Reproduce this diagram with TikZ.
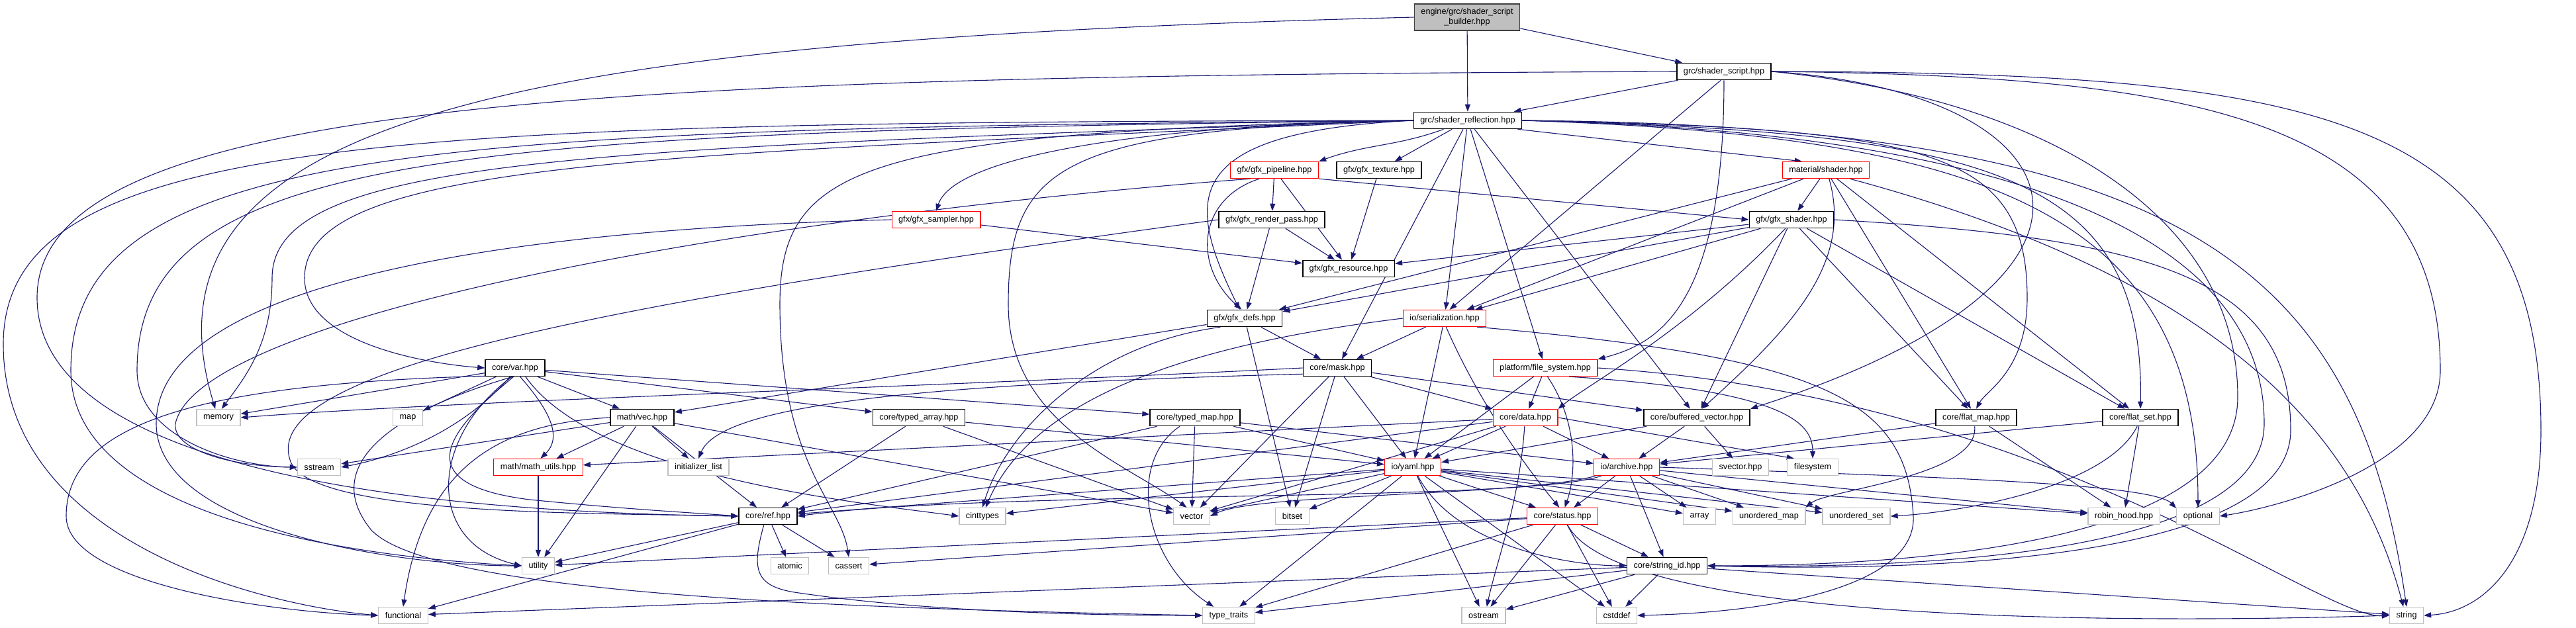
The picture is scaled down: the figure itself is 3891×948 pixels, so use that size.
\documentclass[tikz,border=0pt]{standalone}
\usepackage{fontspec}
\setmainfont{Liberation Sans}
\usetikzlibrary{arrows.meta, backgrounds}
\definecolor{edgeblue}{HTML}{191970}
\definecolor{sysgray}{HTML}{BFBFBF}
\definecolor{rootdraw}{HTML}{404040}
\tikzset{
  hdr/.style={rectangle, draw=black, line width=1.6pt, fill=white,
              minimum height=25pt, inner xsep=10pt, inner ysep=0pt,
              font=\fontsize{12.7}{15}\selectfont},
  redhdr/.style={hdr, draw=red, line width=1.3pt},
  syshdr/.style={hdr, draw=sysgray, line width=1.3pt},
  roothdr/.style={hdr, fill=sysgray, draw=rootdraw, minimum height=40pt, align=center},
  dep/.style={-{Triangle[length=11pt,width=8pt]}, draw=edgeblue, line width=1.1pt},
}
\begin{document}
\begin{tikzpicture}[x=1pt, y=-1pt]
\useasboundingbox (0,0) rectangle (3891,948);
% headers of the project
\node[roothdr] (bld) at (2216,26) {engine/grc/shader\_script\\\_builder.hpp};
\node[hdr] (scr) at (2604,108) {grc/shader\_script.hpp};
\node[hdr] (refl) at (2217,182) {grc/shader\_reflection.hpp};
\node[hdr] (tex) at (2083,257) {gfx/gfx\_texture.hpp};
\node[redhdr] (mshd) at (2758,257) {material/shader.hpp};
\node[redhdr] (pipe) at (1925,257) {gfx/gfx\_pipeline.hpp};
\node[redhdr] (smp) at (1414,332) {gfx/gfx\_sampler.hpp};
\node[hdr] (rpass) at (1921,332) {gfx/gfx\_render\_pass.hpp};
\node[hdr] (gshd) at (2706,332) {gfx/gfx\_shader.hpp};
\node[hdr] (res) at (2037,406) {gfx/gfx\_resource.hpp};
\node[hdr] (defs) at (1880,481) {gfx/gfx\_defs.hpp};
\node[redhdr] (ser) at (2182,481) {io/serialization.hpp};
\node[hdr] (mask) at (2020,556) {core/mask.hpp};
\node[redhdr] (fsys) at (2334,556) {platform/file\_system.hpp};
\node[hdr] (var) at (778,556) {core/var.hpp};
\node[hdr] (vec) at (970,631) {math/vec.hpp};
\node[hdr] (tarr) at (1388,631) {core/typed\_array.hpp};
\node[hdr] (tmap) at (1805,631) {core/typed\_map.hpp};
\node[redhdr] (data) at (2304,631) {core/data.hpp};
\node[hdr] (bvec) at (2563,631) {core/buffered\_vector.hpp};
\node[hdr] (fmap) at (2985,631) {core/flat\_map.hpp};
\node[hdr] (fset) at (3233,631) {core/flat\_set.hpp};
\node[redhdr] (mutil) at (813,706) {math/math\_utils.hpp};
\node[redhdr] (yaml) at (2134,706) {io/yaml.hpp};
\node[redhdr] (arch) at (2457,706) {io/archive.hpp};
\node[hdr] (ref) at (1160,780) {core/ref.hpp};
\node[redhdr] (status) at (2360,780) {core/status.hpp};
\node[hdr] (sid) at (2518,855) {core/string\_id.hpp};
% system headers
\node[syshdr] (memory) at (330,631) {memory};
\node[syshdr] (map) at (616,631) {map};
\node[syshdr] (sstream) at (482,706) {sstream};
\node[syshdr] (ilist) at (1055,706) {initializer\_list};
\node[syshdr] (svec) at (2629,706) {svector.hpp};
\node[syshdr] (fs) at (2738,706) {filesystem};
\node[syshdr] (cint) at (1484,780) {cinttypes};
\node[syshdr] (vector) at (1800,780) {vector};
\node[syshdr] (bitset) at (1952,780) {bitset};
\node[syshdr] (array) at (2567,780) {array};
\node[syshdr] (umap) at (2672,780) {unordered\_map};
\node[syshdr] (uset) at (2804,780) {unordered\_set};
\node[syshdr] (robin) at (3208,780) {robin\_hood.hpp};
\node[syshdr] (optional) at (3320,780) {optional};
\node[syshdr] (utility) at (813,855) {utility};
\node[syshdr] (atomic) at (1193,855) {atomic};
\node[syshdr] (cassert) at (1282,855) {cassert};
\node[syshdr] (functional) at (609,930) {functional};
\node[syshdr] (ttraits) at (1856,930) {type\_traits};
\node[syshdr] (ostream) at (2241,930) {ostream};
\node[syshdr] (cstddef) at (2442,930) {cstddef};
\node[syshdr] (string) at (3635,930) {string};
\begin{scope}[on background layer]
% builder and script
\draw[dep] (bld)--(refl); \draw[dep] (bld)--(scr);
\draw[dep] (bld.west) .. controls (800,60) and (190,170) .. (memory.110);
\draw[dep] (scr)--(refl); \draw[dep] (scr.250)--(ser.60);
\draw[dep] (scr.south) .. controls (2604,470) and (2500,520) .. (fsys.north east);
\draw[dep] (scr.west) .. controls (900,115) and (56,150) .. (56,450) .. controls (56,650) and (400,770) .. (ref.west);
\draw[dep] (scr.east) .. controls (3300,115) and (3686,170) .. (3686,560) .. controls (3686,700) and (3450,765) .. (optional.east);
\draw[dep] (scr.east) .. controls (3500,110) and (3838,170) .. (3838,650) .. controls (3838,850) and (3750,925) .. (string.east);
\draw[dep] (scr.east) .. controls (3150,140) and (3260,420) .. (bvec.north east);
\draw[dep] (scr.east) .. controls (3100,150) and (3380,330) .. (3380,600) .. controls (3380,820) and (2900,855) .. (sid.east);
% reflection
\draw[dep] (refl)--(tex); \draw[dep] (refl.-10)--(mshd.160);
\draw[dep] (refl.200) to[out=200,in=20] (pipe.north east);
\draw[dep] (refl.west) .. controls (1700,190) and (1440,240) .. (smp.north);
\draw[dep] (refl.west) .. controls (1780,200) and (1790,300) .. (defs.120);
\draw[dep] (refl)--(ser); \draw[dep] (refl)--(mask);
\draw[dep] (refl)--(fsys); \draw[dep] (refl)--(bvec);
\draw[dep] (refl.west) .. controls (1000,235) and (460,240) .. (460,420) .. controls (460,520) and (650,550) .. (var.west);
\draw[dep] (refl.west) .. controls (900,225) and (411,235) .. (411,420) .. controls (411,520) and (370,570) .. (memory.70);
\draw[dep] (refl.west) .. controls (600,185) and (5,200) .. (5,520) .. controls (5,820) and (400,915) .. (functional.west);
\draw[dep] (refl.west) .. controls (650,195) and (107,215) .. (107,560) .. controls (107,800) and (600,845) .. (utility.west);
\draw[dep] (refl.west) .. controls (700,200) and (207,225) .. (207,560) .. controls (207,660) and (350,705) .. (sstream.west);
\draw[dep] (refl.west) .. controls (1600,195) and (1523,250) .. (1523,460) .. controls (1523,640) and (1700,700) .. (vector.120);
\draw[dep] (refl.west) .. controls (1300,200) and (1178,250) .. (1178,460) .. controls (1178,700) and (1270,760) .. (cassert.north);
\draw[dep] (refl.east) .. controls (2900,195) and (3062,220) .. (3062,450) .. controls (3062,560) and (3000,590) .. (fmap.north);
\draw[dep] (refl.east) .. controls (3000,200) and (3240,260) .. (fset.north);
\draw[dep] (refl.east) .. controls (3000,205) and (3320,320) .. (optional.north);
\draw[dep] (refl.east) .. controls (3300,190) and (3560,400) .. (string.north);
\draw[dep] (refl.east) .. controls (3100,200) and (3420,380) .. (3420,640) .. controls (3420,830) and (2950,860) .. (sid.east);
% gfx headers
\draw[dep] (tex)--(res);
\draw[dep] (pipe)--(rpass); \draw[dep] (pipe)--(res);
\draw[dep] (pipe.-150) .. controls (1810,300) and (1800,400) .. (defs.110);
\draw[dep] (pipe.south east)--(gshd.west);
\draw[dep] (pipe.200) .. controls (1100,330) and (300,480) .. (265,640) .. controls (260,680) and (350,705) .. (sstream.west);
\draw[dep] (smp)--(res);
\draw[dep] (smp.west) .. controls (800,345) and (236,420) .. (236,640) .. controls (236,800) and (600,855) .. (utility.west);
\draw[dep] (rpass)--(res); \draw[dep] (rpass)--(defs);
\draw[dep] (rpass.west) .. controls (900,460) and (380,560) .. (440,700) .. controls (480,780) and (900,775) .. (ref.west);
\draw[dep] (mshd)--(gshd);
\draw[dep] (gshd)--(res); \draw[dep] (gshd)--(defs); \draw[dep] (gshd)--(ser);
\draw[dep] (gshd)--(bvec); \draw[dep] (gshd)--(fmap); \draw[dep] (gshd)--(fset);
\draw[dep] (gshd.-125) .. controls (2550,500) and (2400,580) .. (data.north east);
\draw[dep] (gshd.east) .. controls (3250,360) and (3460,420) .. (3460,650) .. controls (3460,840) and (2950,865) .. (sid.east);
\draw[dep] (mshd)--(defs); \draw[dep] (mshd)--(ser);
\draw[dep] (mshd.-70) .. controls (2800,400) and (2700,500) .. (bvec.60);
\draw[dep] (mshd)--(fmap); \draw[dep] (mshd)--(fset);
\draw[dep] (mshd.-20) .. controls (3350,420) and (3560,650) .. (string.110);
\draw[dep] (defs)--(mask); \draw[dep] (defs)--(bitset); \draw[dep] (defs)--(vec);
\draw[dep] (defs.200) .. controls (1650,520) and (1520,650) .. (cint.north);
% io and core
\draw[dep] (ser)--(mask); \draw[dep] (ser)--(yaml);
\draw[dep] (ser.-80) .. controls (2230,600) and (2300,700) .. (status.110);
\draw[dep] (ser.west) .. controls (1800,520) and (1560,600) .. (cint.70);
\draw[dep] (ser.-15) .. controls (2750,540) and (2880,600) .. (2890,780) .. controls (2895,880) and (2700,925) .. (cstddef.east);
\draw[dep] (mask)--(data); \draw[dep] (mask)--(yaml); \draw[dep] (mask)--(bvec);
\draw[dep] (mask)--(vector); \draw[dep] (mask)--(bitset);
\draw[dep] (mask.west) .. controls (1400,585) and (700,605) .. (memory.east);
\draw[dep] (mask.190) .. controls (1400,580) and (1090,610) .. (ilist.north);
\draw[dep] (fsys)--(data); \draw[dep] (fsys)--(yaml);
\draw[dep] (fsys.-75) .. controls (2385,640) and (2380,720) .. (status.75);
\draw[dep] (fsys.-20) .. controls (2700,590) and (2738,640) .. (fs.north);
\draw[dep] (fsys.east) .. controls (3100,600) and (3500,935) .. (string.west);
% var and math
\draw[dep] (var)--(memory); \draw[dep] (var)--(map); \draw[dep] (var)--(vec);
\draw[dep] (var)--(tarr); \draw[dep] (var)--(tmap);
\draw[dep] (var.-120) .. controls (700,650) and (600,690) .. (sstream.east);
\draw[dep] (var.-60) .. controls (830,620) and (850,660) .. (mutil.75);
\draw[dep] (var.-100) .. controls (690,640) and (600,730) .. (800,755) .. controls (950,770) and (1050,775) .. (ref.west);
\draw[dep] (var.-110) .. controls (650,660) and (640,820) .. (utility.west);
\draw[dep] (var.195) .. controls (300,580) and (100,640) .. (100,780) .. controls (100,880) and (400,925) .. (functional.west);
\draw[dep] (var.-40) .. controls (900,720) and (1300,760) .. (cint.west);
\draw[dep] (var.-105) .. controls (600,620) and (480,700) .. (560,800) .. controls (650,900) and (1300,920) .. (ttraits.west);
\draw[dep] (vec)--(sstream); \draw[dep] (vec)--(mutil); \draw[dep] (vec)--(ilist);
\draw[dep] (vec)--(ref); \draw[dep] (vec)--(utility); \draw[dep] (vec)--(vector);
\draw[dep] (vec.west) .. controls (760,640) and (640,700) .. (functional.north);
\draw[dep] (tarr)--(ref); \draw[dep] (tarr)--(vector); \draw[dep] (tarr)--(yaml);
\draw[dep] (tmap)--(ref); \draw[dep] (tmap)--(vector);
\draw[dep] (tmap)--(yaml); \draw[dep] (tmap)--(arch);
\draw[dep] (tmap.-150) .. controls (1700,700) and (1730,850) .. (ttraits.150);
\draw[dep] (data)--(yaml); \draw[dep] (data)--(arch); \draw[dep] (data.east)--(fs.155);
\draw[dep] (data.-95) .. controls (2295,760) and (2260,850) .. (ostream.70);
\draw[dep] (data)--(ref); \draw[dep] (data)--(vector); \draw[dep] (data)--(mutil);
\draw[dep] (bvec)--(svec); \draw[dep] (bvec)--(arch); \draw[dep] (bvec)--(yaml);
\draw[dep] (fmap)--(arch); \draw[dep] (fmap)--(robin);
\draw[dep] (fmap.-100) .. controls (2990,720) and (2760,740) .. (umap.north east);
\draw[dep] (fset)--(arch); \draw[dep] (fset)--(robin);
\draw[dep] (fset.-110) .. controls (3180,740) and (2950,775) .. (uset.east);
% yaml, archive, status, string id
\draw[dep] (yaml)--(status); \draw[dep] (yaml)--(ref); \draw[dep] (yaml)--(vector);
\draw[dep] (yaml)--(cint); \draw[dep] (yaml)--(bitset); \draw[dep] (yaml)--(array);
\draw[dep] (yaml)--(umap); \draw[dep] (yaml)--(uset); \draw[dep] (yaml)--(robin);
\draw[dep] (yaml.-60) .. controls (2200,830) and (2380,855) .. (sid.west);
\draw[dep] (yaml)--(ostream); \draw[dep] (yaml)--(cstddef); \draw[dep] (yaml)--(ttraits);
\draw[dep] (arch)--(status); \draw[dep] (arch)--(sid); \draw[dep] (arch)--(array);
\draw[dep] (arch)--(umap); \draw[dep] (arch)--(uset); \draw[dep] (arch)--(robin);
\draw[dep] (arch.east) .. controls (2900,720) and (3250,730) .. (optional.160);
\draw[dep] (arch) .. controls (2300,760) and (1500,740) .. (ref.east);
\draw[dep] (arch) .. controls (2300,750) and (1900,745) .. (vector.east);
\draw[dep] (status)--(sid); \draw[dep] (status)--(ostream); \draw[dep] (status)--(cstddef);
\draw[dep] (status)--(cassert); \draw[dep] (status)--(ttraits); \draw[dep] (status)--(utility);
\draw[dep] (status.-60) .. controls (2450,950) and (3300,940) .. (string.west);
\draw[dep] (sid)--(ostream); \draw[dep] (sid)--(cstddef); \draw[dep] (sid)--(string);
\draw[dep] (sid)--(functional); \draw[dep] (sid)--(ttraits);
\draw[dep] (ref)--(atomic); \draw[dep] (ref)--(cassert);
\draw[dep] (ref)--(utility); \draw[dep] (ref)--(functional);
\draw[dep] (ref.-115) .. controls (1135,860) and (1140,885) .. (1200,895) .. controls (1400,925) and (1650,930) .. (ttraits.west);
\draw[dep] (mutil)--(utility);
\end{scope}
\end{tikzpicture}
\end{document}
